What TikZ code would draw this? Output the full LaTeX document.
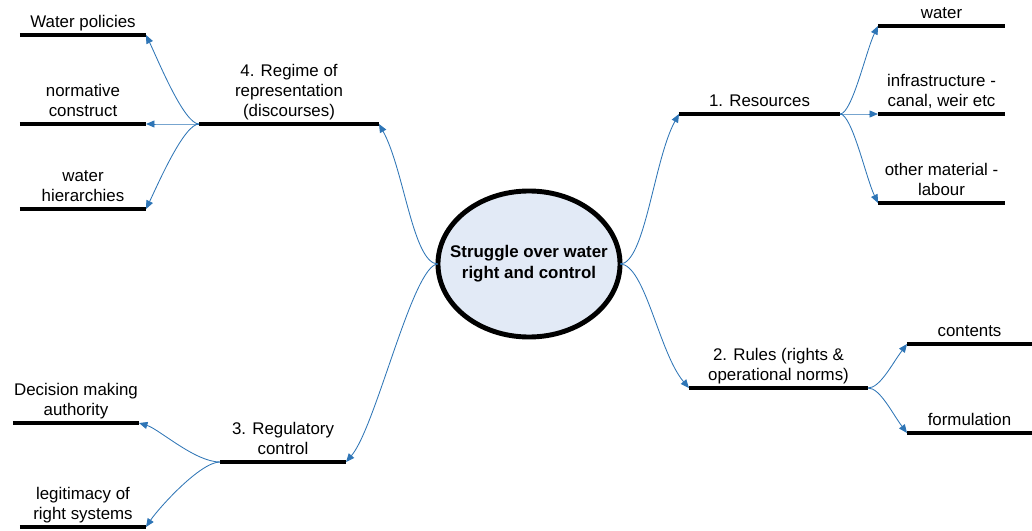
\documentclass[tikz,border=0pt]{standalone}
\usepackage{fontspec}
\setmainfont{Liberation Sans}
\usetikzlibrary{arrows.meta, shapes.geometric}
\definecolor{linkblue}{RGB}{46,117,182}
\definecolor{hubfill}{RGB}{226,234,246}
\newcommand{\lblfont}{\fontsize{12}{14.2}\selectfont}

\begin{document}
\begin{tikzpicture}[x=0.025cm, y=0.025cm,
    topic/.style={inner xsep=0pt, inner ysep=1pt, outer sep=0pt, minimum width=#1,
        align=center, anchor=south, font=\lblfont, execute at end node=\strut},
    topic/.default=3.15cm,
    bar/.style={line width=3pt},
    link/.style={linkblue, line width=0.6pt, -{Triangle[length=6pt,width=5pt]}},
    hub/.style={ellipse, draw, line width=3.5pt, fill=hubfill, minimum width=4.55cm,
        minimum height=3.65cm, inner xsep=-12pt, inner ysep=0pt, outer sep=0pt, align=center,
        font=\bfseries\fontsize{12}{15}\selectfont}]
    \useasboundingbox (0,0) rectangle (1032,-531);

    % Centre
    \node[hub] (hub) at (529,-264) {Struggle over water\\right and control};

    % Main branches
    \node[topic=4.5cm] (reg) at (289,-124) {4. Regime of\\representation\\(discourses)};
    \node[topic=4.025cm] (res) at (759.5,-114) {1. Resources};
    \node[topic=4.475cm] (rul) at (778.5,-388) {2. Rules (rights \&\\operational norms)};
    \node[topic] (regc) at (283,-462) {3. Regulatory\\control};

    % Sub branches
    \node[topic] (pol) at (83,-35) {Water policies};
    \node[topic] (norm) at (83,-124) {normative\\construct};
    \node[topic] (hier) at (83,-209) {water\\hierarchies};
    \node[topic=3.175cm] (wat) at (941.5,-26) {water};
    \node[topic=3.175cm] (infra) at (941.5,-114) {infrastructure -\\canal, weir etc};
    \node[topic=3.175cm] (oth) at (941.5,-203) {other material -\\labour};
    \node[topic=3.125cm] (cont) at (969.5,-344) {contents};
    \node[topic=3.125cm] (form) at (969.5,-433) {formulation};
    \node[topic] (dec) at (76,-423) {Decision making\\authority};
    \node[topic] (legit) at (83,-527) {legitimacy of\\right systems};

    % Underlines
    \foreach \n in {reg,res,rul,regc,pol,norm,hier,wat,infra,oth,cont,form,dec,legit}
        \draw[bar] (\n.south west) -- (\n.south east);

    % Links from the centre
    \draw[link] (hub.west) .. controls +(-25,0) and +(25,-45) .. (reg.south east);
    \draw[link] (hub.west) .. controls +(-25,0) and +(30,35) .. (regc.south east);
    \draw[link] (hub.east) .. controls +(25,0) and +(-25,-45) .. (res.south west);
    \draw[link] (hub.east) .. controls +(25,0) and +(-30,35) .. (rul.south west);

    % Links to sub branches
    \foreach \t/\dy in {pol/-25, norm/0, hier/25}
        \draw[link] (reg.south west) .. controls +(-15,0) and +(12,\dy) .. (\t.south east);
    \foreach \t/\dy in {wat/-25, infra/0, oth/25}
        \draw[link] (res.south east) .. controls +(12,0) and +(-12,\dy) .. (\t.south west);
    \foreach \t/\dy in {cont/-20, form/20}
        \draw[link] (rul.south east) .. controls +(12,0) and +(-15,\dy) .. (\t.south west);
    \draw[link] (regc.south west) .. controls +(-25,0) and +(20,-6) .. (dec.south east);
    \draw[link] (regc.south west) .. controls +(-20,0) and +(12,18) .. (legit.south east);
\end{tikzpicture}
\end{document}
